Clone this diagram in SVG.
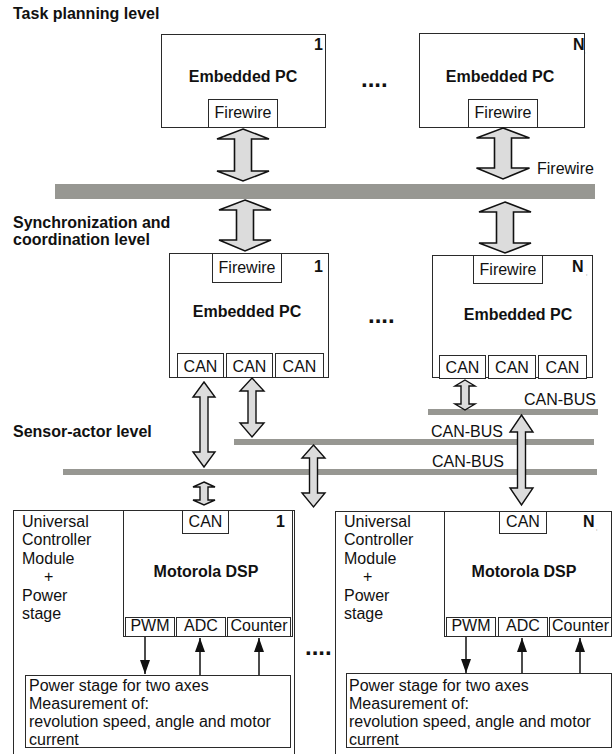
<svg xmlns="http://www.w3.org/2000/svg" width="612" height="754" viewBox="0 0 612 754">
  <style>
    .box { fill: #ffffff; stroke: #2a2a2a; stroke-width: 1; }
    .bus { fill: #979792; }
    .fat { fill: #dcdcdc; stroke: #111111; stroke-width: 1.6; stroke-linejoin: miter; }
    .thin { fill: #dcdcdc; stroke: #111111; stroke-width: 1.4; stroke-linejoin: miter; }
    .sig { stroke: #111111; stroke-width: 1.5; fill: none; marker-end: url(#tip); }
    .t { font-family: "Liberation Sans", Arial, sans-serif; font-size: 16px; fill: #111111; }
    .b { font-weight: bold; }
    .idx { font-family: "Liberation Sans", Arial, sans-serif; font-size: 16px; font-weight: bold; fill: #111111; }
    .tiny { font-family: "Liberation Sans", Arial, sans-serif; font-size: 5px; fill: #333333; }
    .dots { font-family: "Liberation Sans", Arial, sans-serif; font-size: 24px; font-weight: bold; fill: #111111; }
  </style>
  <defs>
    <marker id="tip" viewBox="0 0 14 10" refX="14" refY="5" markerWidth="14" markerHeight="10" markerUnits="userSpaceOnUse" orient="auto">
      <path d="M0,0 L14,5 L0,10 z" fill="#111111"/>
    </marker>
  </defs>

  <!-- level headings -->
  <g id="levels">
    <text class="t b" x="13" y="19">Task planning level</text>
    <text class="t b" x="13" y="228">Synchronization and</text>
    <text class="t b" x="13" y="245">coordination level</text>
    <text class="t b" x="13" y="437">Sensor-actor level</text>
  </g>

  <!-- buses -->
  <g id="buses">
    <rect class="bus" x="55" y="184" width="540" height="15"/>
    <text class="t" x="537" y="174">Firewire</text>
    <rect class="bus" x="428" y="409" width="170" height="6"/>
    <text class="t" x="524" y="405">CAN-BUS</text>
    <rect class="bus" x="234" y="439" width="360" height="6"/>
    <text class="t" x="431" y="437">CAN-BUS</text>
    <rect class="bus" x="63" y="469" width="534" height="6"/>
    <text class="t" x="432" y="467">CAN-BUS</text>
  </g>

  <!-- task planning level PCs -->
  <g id="pc-top-1">
    <rect class="box" x="161.5" y="34.5" width="164" height="93"/>
    <text class="idx" x="314" y="50">1</text>
    <text class="t b" x="243" y="82" text-anchor="middle">Embedded PC</text>
    <rect class="box" x="208.5" y="99.5" width="69" height="28"/>
    <text class="t" x="243" y="118" text-anchor="middle">Firewire</text>
  </g>
  <text class="dots" x="361" y="87">....</text>
  <g id="pc-top-n">
    <rect class="box" x="419.5" y="33.5" width="165" height="94"/>
    <text class="idx" x="573" y="50">N</text>
    <text class="tiny" x="584" y="53">,</text>
    <text class="t b" x="500" y="82" text-anchor="middle">Embedded PC</text>
    <rect class="box" x="468.5" y="99.5" width="69" height="28"/>
    <text class="t" x="503" y="118" text-anchor="middle">Firewire</text>
  </g>

  <!-- coordination level PCs -->
  <g id="pc-mid-1">
    <rect class="box" x="169.5" y="253.5" width="159" height="124"/>
    <text class="idx" x="314" y="272">1</text>
    <rect class="box" x="212.5" y="253.5" width="69" height="29"/>
    <text class="t" x="247" y="273" text-anchor="middle">Firewire</text>
    <text class="t b" x="247" y="317" text-anchor="middle">Embedded PC</text>
    <rect class="box" x="177.5" y="353.5" width="46" height="24"/>
    <rect class="box" x="226.5" y="353.5" width="46" height="24"/>
    <rect class="box" x="275.5" y="353.5" width="48" height="24"/>
    <text class="t" x="200.5" y="372" text-anchor="middle">CAN</text>
    <text class="t" x="249.5" y="372" text-anchor="middle">CAN</text>
    <text class="t" x="299.5" y="372" text-anchor="middle">CAN</text>
  </g>
  <text class="dots" x="368" y="323">....</text>
  <g id="pc-mid-n">
    <rect class="box" x="432.5" y="255.5" width="160" height="122"/>
    <text class="idx" x="572" y="272">N</text>
    <text class="tiny" x="586" y="275">,</text>
    <rect class="box" x="473.5" y="255.5" width="69" height="28"/>
    <text class="t" x="508" y="275" text-anchor="middle">Firewire</text>
    <text class="t b" x="518" y="320" text-anchor="middle">Embedded PC</text>
    <rect class="box" x="439.5" y="355.5" width="46" height="23"/>
    <rect class="box" x="488.5" y="355.5" width="47" height="23"/>
    <rect class="box" x="538.5" y="355.5" width="48" height="23"/>
    <text class="t" x="462.5" y="373" text-anchor="middle">CAN</text>
    <text class="t" x="512" y="373" text-anchor="middle">CAN</text>
    <text class="t" x="562.5" y="373" text-anchor="middle">CAN</text>
  </g>

  <!-- sensor-actor level controller modules -->
  <g id="ucm-1">
    <rect class="box" x="13.5" y="510.5" width="281" height="260"/>
    <text class="t" x="22" y="527">Universal</text>
    <text class="t" x="22" y="545">Controller</text>
    <text class="t" x="22" y="564">Module</text>
    <text class="t" x="44" y="582">+</text>
    <text class="t" x="22" y="601">Power</text>
    <text class="t" x="22" y="619">stage</text>
    <rect class="box" x="123.5" y="510.5" width="169" height="126"/>
    <rect class="box" x="182.5" y="510.5" width="46" height="23"/>
    <text class="t" x="205.5" y="527" text-anchor="middle">CAN</text>
    <text class="idx" x="276" y="527">1</text>
    <text class="t b" x="206" y="577" text-anchor="middle">Motorola DSP</text>
    <rect class="box" x="125.5" y="617.5" width="49" height="19"/>
    <rect class="box" x="176.5" y="617.5" width="49" height="19"/>
    <rect class="box" x="227.5" y="617.5" width="63" height="19"/>
    <text class="t" x="150" y="631" text-anchor="middle">PWM</text>
    <text class="t" x="201" y="631" text-anchor="middle">ADC</text>
    <text class="t" x="259" y="631" text-anchor="middle">Counter</text>
    <rect class="box" x="25.5" y="675.5" width="265" height="72"/>
    <text class="t" x="29" y="691">Power stage for two axes</text>
    <text class="t" x="29" y="709">Measurement of:</text>
    <text class="t" x="29" y="727">revolution speed, angle and motor</text>
    <text class="t" x="29" y="745">current</text>
  </g>
  <text class="dots" x="305" y="655">....</text>
  <g id="ucm-n">
    <rect class="box" x="335.5" y="511.5" width="290" height="260"/>
    <text class="t" x="344" y="527">Universal</text>
    <text class="t" x="344" y="545">Controller</text>
    <text class="t" x="344" y="564">Module</text>
    <text class="t" x="363" y="582">+</text>
    <text class="t" x="344" y="601">Power</text>
    <text class="t" x="344" y="619">stage</text>
    <rect class="box" x="444.5" y="511.5" width="167" height="125"/>
    <rect class="box" x="499.5" y="511.5" width="47" height="22"/>
    <text class="t" x="523" y="527" text-anchor="middle">CAN</text>
    <text class="idx" x="583" y="527">N</text>
    <text class="tiny" x="596" y="530">,</text>
    <text class="t b" x="524" y="577" text-anchor="middle">Motorola DSP</text>
    <rect class="box" x="446.5" y="617.5" width="49" height="19"/>
    <rect class="box" x="498.5" y="617.5" width="49" height="19"/>
    <rect class="box" x="549.5" y="617.5" width="62" height="19"/>
    <text class="t" x="471" y="631" text-anchor="middle">PWM</text>
    <text class="t" x="523" y="631" text-anchor="middle">ADC</text>
    <text class="t" x="580.5" y="631" text-anchor="middle">Counter</text>
    <rect class="box" x="346.5" y="673.5" width="265" height="74"/>
    <text class="t" x="349" y="691">Power stage for two axes</text>
    <text class="t" x="349" y="709">Measurement of:</text>
    <text class="t" x="349" y="727">revolution speed, angle and motor</text>
    <text class="t" x="349" y="745">current</text>
  </g>

  <!-- connectors -->
  <g id="connectors">
    <!-- Firewire links -->
    <polygon class="fat" points="243,129 269,139 251.5,139 251.5,171 269,171 243,181 217,171 234.5,171 234.5,139 217,139"/>
    <polygon class="fat" points="245,200 271,210 253.5,210 253.5,240 271,240 245,251 219,240 236.5,240 236.5,210 219,210"/>
    <polygon class="fat" points="503,128 529.5,138 511.5,138 511.5,168 529.5,168 503,179 476.5,168 494.5,168 494.5,138 476.5,138"/>
    <polygon class="fat" points="505,202 531,212 513.5,212 513.5,243 531,243 505,253 479,243 496.5,243 496.5,212 479,212"/>
    <!-- CAN links -->
    <polygon class="thin" points="204,382 215,397 208,397 208,452 215,452 204,467 193,452 200,452 200,397 193,397"/>
    <polygon class="thin" points="252,378 264,391 256,391 256,423 264,423 252,437 240,423 248,423 248,391 240,391"/>
    <polygon class="thin" points="313.5,445 325,458 317.5,458 317.5,493 325,493 313.5,507 302,493 309.5,493 309.5,458 302,458"/>
    <polygon class="thin" points="204,482 215,487 208,487 208,500 215,500 204,505 193,500 200,500 200,487 193,487"/>
    <polygon class="thin" points="465,380 475,386 469,386 469,404 475,404 465,410 455,404 461,404 461,386 455,386"/>
    <polygon class="thin" points="521.5,415 533,432 525.5,432 525.5,488 533,488 521.5,505 510,488 517.5,488 517.5,432 510,432"/>
    <!-- signal lines to/from power stage -->
    <line class="sig" x1="145" y1="637" x2="145" y2="674"/>
    <line class="sig" x1="200" y1="675" x2="200" y2="638"/>
    <line class="sig" x1="259" y1="675" x2="259" y2="638"/>
    <line class="sig" x1="466" y1="637" x2="466" y2="673"/>
    <line class="sig" x1="522" y1="673" x2="522" y2="638"/>
    <line class="sig" x1="580" y1="673" x2="580" y2="638"/>
  </g>
</svg>
